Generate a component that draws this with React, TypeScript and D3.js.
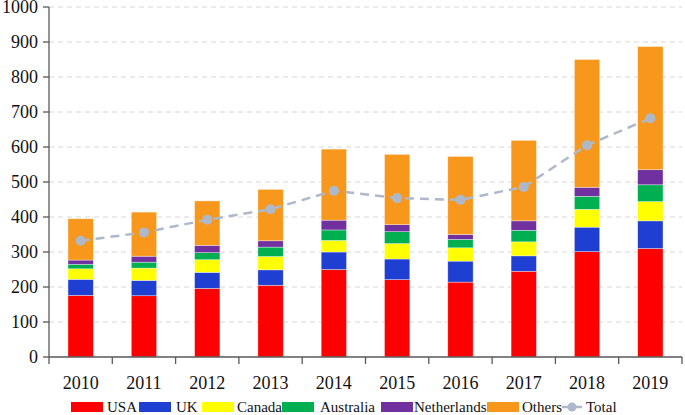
import React from "react";
import * as d3 from "d3";

const years = ["2010", "2011", "2012", "2013", "2014", "2015", "2016", "2017", "2018", "2019"];
const usa = [176, 175, 196, 205, 250, 221, 214, 245, 301, 310];
const uk = [46, 44, 46, 44, 50, 59, 60, 44, 70, 79];
const canada = [30, 35, 36, 38, 33, 44, 38, 40, 51, 55];
const australia = [13, 17, 20, 27, 30, 34, 24, 33, 37, 48];
const netherlands = [12, 17, 21, 18, 28, 20, 14, 27, 26, 43];
const others = [118, 126, 127, 147, 203, 201, 223, 230, 365, 352];
const total = [332, 356, 392, 422, 475, 454, 449, 486, 605, 682];
const yTicks = [0, 100, 200, 300, 400, 500, 600, 700, 800, 900, 1000];

const seriesNames = ["USA", "UK", "Canada", "Australia", "Netherlands", "Others"];
const seriesColors = ["#ff0000", "#1f3fd2", "#ffff00", "#00b050", "#7030a0", "#f7981d"];
const totalColor = "#adb9ca";

const W = 685;
const H = 415;
const left = 49;
const right = 682;
const top = 7;
const bottom = 357;
const font = "Liberation Serif, Times New Roman, Times, serif";

export default function App() {
  const x = d3.scaleBand<string>().domain(years).range([left, right]).paddingInner(0.6).paddingOuter(0.3);
  const y = d3.scaleLinear().domain([0, 1000]).range([bottom, top]);
  const step = x.step();

  const rows = years.map((yr, i) => ({
    year: yr,
    USA: usa[i],
    UK: uk[i],
    Canada: canada[i],
    Australia: australia[i],
    Netherlands: netherlands[i],
    Others: others[i],
  }));
  const stacked = d3.stack<any>().keys(seriesNames)(rows);

  const line = d3
    .line<number>()
    .x((_, i) => (x(years[i]) as number) + x.bandwidth() / 2)
    .y((d) => y(d));

  const legendY = 407;
  const legendItems = [
    { name: "USA", sx: 71, tx: 107 },
    { name: "UK", sx: 139, tx: 176 },
    { name: "Canada", sx: 202, tx: 237 },
    { name: "Australia", sx: 282, tx: 320 },
    { name: "Netherlands", sx: 381, tx: 414 },
    { name: "Others", sx: 487, tx: 522 },
  ];

  return (
    <svg width={W} height={H} style={{ position: "absolute", left: 0, top: 0, background: "#fff", fontFamily: font }}>
      {yTicks.slice(1).map((t) => (
        <line key={"g" + t} x1={left} x2={right} y1={y(t)} y2={y(t)} stroke="#d6d6d6" strokeWidth={1} strokeDasharray="5,4" />
      ))}
      {stacked.map((s, si) =>
        s.map((d, i) => (
          <rect
            key={si + "-" + i}
            x={x(years[i])}
            width={x.bandwidth()}
            y={y(d[1])}
            height={y(d[0]) - y(d[1])}
            fill={seriesColors[si]}
            stroke="#ffffff"
            strokeOpacity={0.6}
            strokeWidth={0.6}
          />
        ))
      )}
      <path d={line(total) || ""} fill="none" stroke={totalColor} strokeWidth={2.5} strokeDasharray="9,6" />
      {total.map((v, i) => (
        <circle key={"c" + i} cx={(x(years[i]) as number) + x.bandwidth() / 2} cy={y(v)} r={5} fill={totalColor} />
      ))}
      <line x1={left} x2={left} y1={top} y2={bottom} stroke="#595959" strokeWidth={1.3} />
      {yTicks.map((t) => (
        <g key={"y" + t}>
          <line x1={left - 6} x2={left} y1={y(t)} y2={y(t)} stroke="#595959" strokeWidth={1.3} />
          <text x={left - 11} y={y(t)} dy="0.35em" textAnchor="end" style={{ fontFamily: font, fontSize: 18 }} fill="#111">
            {t}
          </text>
        </g>
      ))}
      <line x1={left} x2={right} y1={bottom} y2={bottom} stroke="#595959" strokeWidth={1.3} />
      {d3.range(years.length + 1).map((i) => (
        <line key={"xt" + i} x1={left + i * step} x2={left + i * step} y1={bottom} y2={bottom + 7} stroke="#595959" strokeWidth={1.3} />
      ))}
      {years.map((yr) => (
        <text key={"xl" + yr} x={(x(yr) as number) + x.bandwidth() / 2} y={389} textAnchor="middle" style={{ fontFamily: font, fontSize: 18 }} fill="#111">
          {yr}
        </text>
      ))}
      {legendItems.map((it, i) => (
        <g key={"lg" + it.name}>
          <rect x={it.sx} y={legendY - 5} width={32} height={10} fill={seriesColors[i]} />
          <text x={it.tx} y={legendY} dy="0.35em" style={{ fontFamily: font, fontSize: 15 }} fill="#111">
            {it.name}
          </text>
        </g>
      ))}
      <line x1={562} x2={569} y1={legendY} y2={legendY} stroke={totalColor} strokeWidth={2.5} />
      <line x1={576} x2={582} y1={legendY} y2={legendY} stroke={totalColor} strokeWidth={2.5} />
      <circle cx={572} cy={legendY} r={4.5} fill={totalColor} />
      <text x={586} y={legendY} dy="0.35em" style={{ fontFamily: font, fontSize: 15 }} fill="#111">
        Total
      </text>
    </svg>
  );
}
